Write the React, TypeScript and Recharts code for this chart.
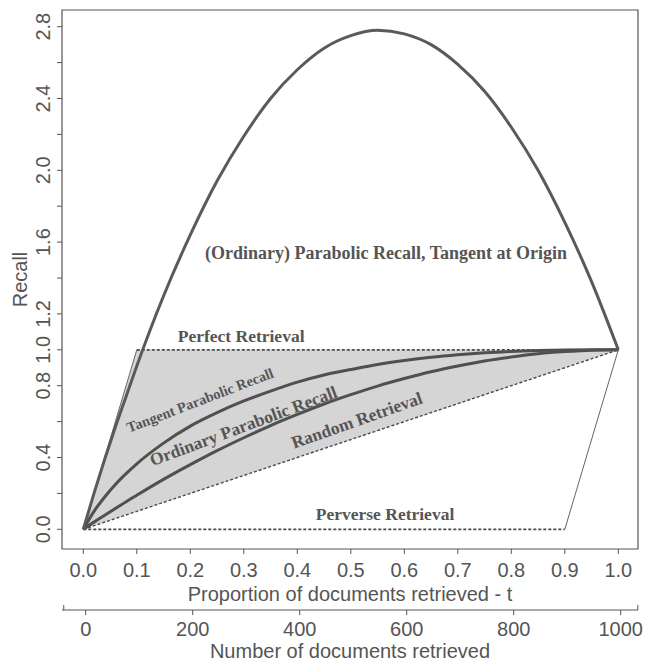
import React from "react";
import {
  ComposedChart,
  Line,
  Area,
  XAxis,
  YAxis,
  ReferenceArea,
  ReferenceDot,
} from "recharts";

const curveT = [0, 0.02, 0.04, 0.06, 0.08, 0.1, 0.15, 0.2, 0.25, 0.3, 0.35, 0.4, 0.45, 0.5, 0.55, 0.6, 0.65, 0.7, 0.75, 0.8, 0.85, 0.9, 0.95, 1];
// (Ordinary) Parabolic Recall, Tangent at Origin
const bigRecall = [0, 0.2, 0.39, 0.57, 0.74, 0.91, 1.3, 1.64, 1.94, 2.19, 2.4, 2.56, 2.68, 2.75, 2.78, 2.76, 2.7, 2.59, 2.44, 2.24, 2.0, 1.71, 1.38, 1.0];
// Tangent Parabolic Recall
const tangentRecall = [0, 0.1, 0.18, 0.25, 0.31, 0.365, 0.48, 0.575, 0.65, 0.715, 0.77, 0.82, 0.86, 0.89, 0.918, 0.94, 0.958, 0.972, 0.983, 0.991, 0.996, 0.999, 1.0, 1.0];
// Ordinary Parabolic Recall
const ordinaryRecall = [0, 0.04, 0.078, 0.116, 0.154, 0.19, 0.278, 0.36, 0.438, 0.51, 0.578, 0.64, 0.698, 0.75, 0.798, 0.84, 0.878, 0.91, 0.938, 0.96, 0.978, 0.99, 0.998, 1.0];

const perfectT = [0, 0.1, 1];
const perfectRecall = [0, 1, 1];
const randomT = [0, 1];
const randomRecall = [0, 1];
const perverseT = [0, 0.9];
const perverseRecall = [0, 0];
const perverseEdgeT = [0.9, 1];
const perverseEdgeRecall = [0, 1];
const bandLow = [0, 0.1, 1];

const propTicks = [0, 0.1, 0.2, 0.3, 0.4, 0.5, 0.6, 0.7, 0.8, 0.9, 1.0];
const docTicks = [0, 200, 400, 600, 800, 1000];
const docCaps = [-41, 1032];
const recallTicks = [0, 0.2, 0.4, 0.6, 0.8, 1.0, 1.2, 1.4, 1.6, 1.8, 2.0, 2.2, 2.4, 2.6, 2.8];
const recallLabels = [0, 0.4, 0.8, 1.0, 1.2, 1.6, 2.0, 2.4, 2.8];

const curveRows = curveT.map((t, i) => ({
  t,
  big: bigRecall[i],
  tangent: tangentRecall[i],
  ordinary: ordinaryRecall[i],
}));
const perfectRows = perfectT.map((t, i) => ({ t, v: perfectRecall[i] }));
const randomRows = randomT.map((t, i) => ({ t, v: randomRecall[i] }));
const perverseRows = perverseT.map((t, i) => ({ t, v: perverseRecall[i] }));
const perverseEdgeRows = perverseEdgeT.map((t, i) => ({ t, v: perverseEdgeRecall[i] }));
const bandRows = perfectT.map((t, i) => ({ t, band: [bandLow[i], perfectRecall[i]] }));

const annotations = [
  { text: "(Ordinary) Parabolic Recall, Tangent at Origin", t: 0.566, v: 1.543, angle: 0, size: 18 },
  { text: "Perfect Retrieval", t: 0.295, v: 1.077, angle: 0, size: 17.5 },
  { text: "Perverse Retrieval", t: 0.564, v: 0.085, angle: 0, size: 17.5 },
  { text: "Tangent Parabolic Recall", t: 0.218, v: 0.72, angle: -21, size: 14.5 },
  { text: "Ordinary Parabolic Recall", t: 0.299, v: 0.577, angle: -20.5, size: 17.5 },
  { text: "Random Retrieval", t: 0.511, v: 0.609, angle: -19.5, size: 17.5 },
];

const X_DOMAIN = [-0.0398, 1.0368];
const DOC_DOMAIN = [-44.3, 1032.3];
const Y_DOMAIN = [-0.1097, 2.893];

const INK = "#555";
const SANS = "'Liberation Sans', Arial, sans-serif";
const SERIF = "'Liberation Serif', 'Times New Roman', serif";

const PropTick = (props: any) => {
  const { x, y, payload } = props;
  return (
    <text x={x} y={y + 21} textAnchor="middle" fontSize={20} fill={INK} fontFamily={SANS}>
      {Number(payload.value).toFixed(1)}
    </text>
  );
};

const DocTick = (props: any) => {
  const { x, y, payload } = props;
  const axisY = y - 7;
  if (docCaps.includes(payload.value)) {
    return <line x1={x} x2={x} y1={axisY} y2={axisY - 5} stroke={INK} />;
  }
  return (
    <g>
      <line x1={x} x2={x} y1={axisY} y2={axisY + 5} stroke={INK} />
      <text x={x} y={y + 19} textAnchor="middle" fontSize={20} fill={INK} fontFamily={SANS}>
        {payload.value}
      </text>
    </g>
  );
};

const RecallTick = (props: any) => {
  const { x, y, payload } = props;
  if (!recallLabels.some((r) => Math.abs(r - payload.value) < 1e-6)) return <g />;
  const bx = x - 5;
  return (
    <text
      x={bx}
      y={y}
      transform={`rotate(-90, ${bx}, ${y})`}
      textAnchor="middle"
      fontSize={20}
      fill={INK}
      fontFamily={SANS}
    >
      {Number(payload.value).toFixed(1)}
    </text>
  );
};

const RecallTitle = (props: any) => {
  const vb = props.viewBox || { x: 0, y: 10, width: 62, height: 539 };
  const bx = vb.x + 27;
  const cy = vb.y + vb.height / 2;
  return (
    <text
      x={bx}
      y={cy}
      transform={`rotate(-90, ${bx}, ${cy})`}
      textAnchor="middle"
      fontSize={20}
      fill={INK}
      fontFamily={SANS}
    >
      Recall
    </text>
  );
};

export default function App() {
  return (
    <div style={{ position: "absolute", left: 0, top: 0, width: 645, height: 663, background: "#fff" }}>
      <ComposedChart
        width={645}
        height={663}
        data={curveRows}
        margin={{ top: 10, right: 7, left: 0, bottom: 0 }}
      >
        <XAxis
          dataKey="t"
          type="number"
          domain={X_DOMAIN}
          allowDataOverflow
          ticks={propTicks}
          interval={0}
          height={61}
          axisLine={false}
          tickSize={5}
          tickMargin={2}
          tickLine={{ stroke: INK }}
          tick={PropTick}
          label={{
            value: "Proportion of documents retrieved - t",
            position: "insideBottom",
            offset: 9,
            fontSize: 20,
            fill: INK,
            fontFamily: SANS,
          }}
        />
        <XAxis
          xAxisId="n"
          dataKey="t"
          type="number"
          domain={DOC_DOMAIN}
          allowDataOverflow
          ticks={[docCaps[0], ...docTicks, docCaps[1]]}
          interval={0}
          height={53}
          axisLine={{ stroke: INK }}
          tickSize={5}
          tickMargin={2}
          tickLine={false}
          tick={DocTick}
          label={{
            value: "Number of documents retrieved",
            position: "insideBottom",
            offset: 5,
            fontSize: 20,
            fill: INK,
            fontFamily: SANS,
          }}
        />
        <YAxis
          type="number"
          domain={Y_DOMAIN}
          allowDataOverflow
          ticks={recallTicks}
          interval={0}
          width={62}
          axisLine={false}
          tickSize={5}
          tickMargin={2}
          tickLine={{ stroke: INK }}
          tick={RecallTick}
          label={<RecallTitle />}
        />

        <Area
          data={bandRows}
          dataKey="band"
          type="linear"
          fill="#d5d5d5"
          fillOpacity={1}
          stroke="none"
          isAnimationActive={false}
        />

        <Line data={perfectRows.slice(0, 2)} dataKey="v" type="linear" stroke="#666" strokeWidth={1} dot={false} isAnimationActive={false} />
        <Line data={perfectRows.slice(1)} dataKey="v" type="linear" stroke="#4a4a4a" strokeWidth={1.8} strokeDasharray="3 2" dot={false} isAnimationActive={false} />
        <Line data={randomRows} dataKey="v" type="linear" stroke="#4a4a4a" strokeWidth={1.4} strokeDasharray="3 2" dot={false} isAnimationActive={false} />
        <Line data={perverseRows} dataKey="v" type="linear" stroke="#4a4a4a" strokeWidth={1.8} strokeDasharray="3 2" dot={false} isAnimationActive={false} />
        <Line data={perverseEdgeRows} dataKey="v" type="linear" stroke="#666" strokeWidth={1} dot={false} isAnimationActive={false} />

        <Line dataKey="ordinary" type="monotone" stroke="#505050" strokeWidth={3} dot={false} isAnimationActive={false} />
        <Line dataKey="tangent" type="monotone" stroke="#505050" strokeWidth={3} dot={false} isAnimationActive={false} />
        <Line dataKey="big" type="monotone" stroke="#5a5a5a" strokeWidth={3} dot={false} isAnimationActive={false} />

        <ReferenceArea
          x1={X_DOMAIN[0]}
          x2={X_DOMAIN[1]}
          y1={Y_DOMAIN[0]}
          y2={Y_DOMAIN[1]}
          fill="none"
          fillOpacity={0}
          stroke={INK}
          strokeWidth={1.2}
          ifOverflow="visible"
        />

        {annotations.map((a) => (
          <ReferenceDot
            key={a.text}
            x={a.t}
            y={a.v}
            r={0}
            fill="none"
            stroke="none"
            label={{
              value: a.text,
              position: "center",
              angle: a.angle,
              fontSize: a.size,
              fontWeight: "bold",
              fontFamily: SERIF,
              fill: INK,
            }}
          />
        ))}
      </ComposedChart>
    </div>
  );
}
